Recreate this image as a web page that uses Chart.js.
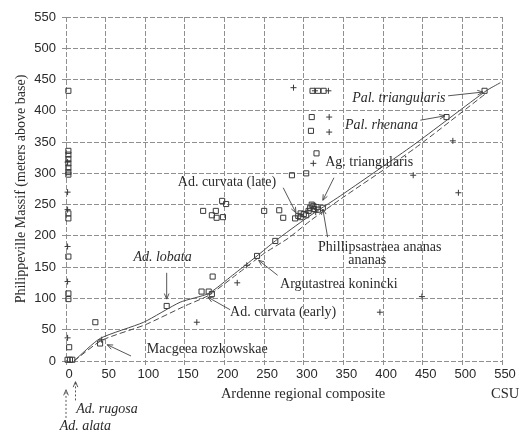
<!DOCTYPE html>
<html>
<head>
<meta charset="utf-8">
<script src="https://cdn.jsdelivr.net/npm/chart.js@4.4.0/dist/chart.umd.min.js"></script>
<style>
  html, body { margin: 0; padding: 0; background: #fff; }
  #wrap { width: 523px; height: 436px; }
</style>
</head>
<body>
<div id="wrap"><canvas id="chart" width="523" height="436"></canvas></div>
<script>
// same 0..550 ticks on both axes
const tickValues = [0, 50, 100, 150, 200, 250, 300, 350, 400, 450, 500, 550];

// open squares (Ardenne CSU, Philippeville m)
const squareX = [3, 3, 3, 3, 3, 3, 3, 3, 3, 3, 3, 3, 3, 4, 2, 5, 8,
  37, 43, 127, 171, 180, 184, 185, 173, 189, 184, 190, 198, 197, 202,
  250, 269, 274, 241, 264, 285, 303, 316,
  289, 293, 296, 300, 303, 306, 308, 310, 312, 313, 316, 318, 324, 296,
  311, 318, 325, 310, 309, 480, 528];
const squareY = [432, 336, 330, 323, 316, 309, 302, 298, 236, 228, 167, 108, 99, 22, 2, 2, 2,
  62, 28, 88, 111, 111, 107, 135, 240, 240, 233, 229, 230, 256, 251,
  240, 241, 229, 168, 192, 297, 300, 332,
  228, 232, 230, 235, 233, 240, 245, 250, 248, 243, 246, 242, 245, 236,
  432, 432, 432, 390, 368, 390, 432];

// plus markers
const plusX = [2, 2, 2, 2, 2, 2, 45, 165, 216, 228, 305, 315, 312, 332, 332, 287, 314, 331, 438, 495, 396, 449, 488];
const plusY = [318, 270, 242, 183, 127, 37, 34, 62, 125, 153, 240, 238, 316, 390, 366, 437, 432, 432, 297, 269, 78, 103, 352];

// solid line of correlation
const lineX = [10, 43, 98, 144, 180, 210, 241, 264, 304, 346, 438, 530, 548];
const lineY = [0, 36, 62, 94, 108, 137, 168, 192, 229, 264, 345, 432, 445];

// dashed line of correlation
const dashX = [10, 45, 100, 150, 180, 215, 250, 280, 310, 350, 440, 530];
const dashY = [0, 33, 58, 88, 105, 138, 172, 196, 226, 262, 340, 428];

// taxon labels: text, italic, anchor (data units), arrow from -> to (data units)
const notes = [
  { text: 'Pal. triangularis', italic: true, x: 361, y: 420, from: [482, 424], to: [526, 430] },
  { text: 'Pal. rhenana', italic: true, x: 352, y: 377, from: [447, 385], to: [478, 392] },
  { text: 'Ag. triangularis', italic: false, x: 327, y: 317, from: [338, 293], to: [324, 257] },
  { text: 'Ad. curvata (late)', italic: false, x: 141, y: 285, from: [274, 277], to: [290, 237] },
  { text: 'Phillipsastraea ananas', italic: false, x: 318, y: 182, from: [330, 198], to: [324, 243] },
  { text: 'ananas', italic: false, x: 356, y: 161 },
  { text: 'Argutastrea konincki', italic: false, x: 270, y: 122, from: [267, 137], to: [243, 161] },
  { text: 'Ad. lobata', italic: true, x: 85, y: 166, from: [127, 141], to: [127, 99] },
  { text: 'Ad. curvata (early)', italic: false, x: 207, y: 78, from: [207, 82], to: [179, 102] },
  { text: 'Macgeea rozkowskae', italic: false, x: 102, y: 18, from: [82, 8], to: [52, 26] },
  { text: 'Ad. rugosa', italic: true, x: 13, y: -78, from: [12, -63], to: [12, -33], dotted: true },
  { text: 'Ad. alata', italic: true, x: -8, y: -105, from: [0, -91], to: [0, -46], dotted: true }
];

const ink = '#2a2a2a';
const gridColor = '#8f8f8f';
const serif = '"Liberation Serif", "DejaVu Serif", serif';
const narrow = '"Liberation Sans Narrow", "Liberation Sans", sans-serif';

function toPoints(xs, ys) {
  return xs.map((x, i) => ({ x: x, y: ys[i] }));
}

function arrow(ctx, x1, y1, x2, y2, dotted) {
  ctx.save();
  ctx.strokeStyle = '#444';
  ctx.lineWidth = 0.9;
  ctx.setLineDash(dotted ? [2, 2] : []);
  ctx.beginPath();
  ctx.moveTo(x1, y1);
  ctx.lineTo(x2, y2);
  ctx.stroke();
  // open arrow head
  ctx.setLineDash([]);
  const a = Math.atan2(y2 - y1, x2 - x1);
  const len = 6;
  ctx.beginPath();
  ctx.moveTo(x2 - len * Math.cos(a - 0.4), y2 - len * Math.sin(a - 0.4));
  ctx.lineTo(x2, y2);
  ctx.lineTo(x2 - len * Math.cos(a + 0.4), y2 - len * Math.sin(a + 0.4));
  ctx.stroke();
  ctx.restore();
}

// draws the taxon names, arrows and the x axis captions
const notesPlugin = {
  id: 'notes',
  afterDraw(chart) {
    const { ctx, scales: { x, y } } = chart;
    ctx.save();
    ctx.fillStyle = ink;
    ctx.textBaseline = 'middle';
    notes.forEach(n => {
      ctx.font = (n.italic ? 'italic ' : '') + '14px ' + serif;
      ctx.textAlign = 'left';
      ctx.fillText(n.text, x.getPixelForValue(n.x), y.getPixelForValue(n.y));
      if (n.from) {
        arrow(ctx, x.getPixelForValue(n.from[0]), y.getPixelForValue(n.from[1]),
          x.getPixelForValue(n.to[0]), y.getPixelForValue(n.to[1]), n.dotted);
      }
    });
    // x axis caption and unit
    ctx.font = '14.5px ' + serif;
    ctx.textAlign = 'center';
    ctx.fillText('Ardenne regional composite', x.getPixelForValue(299), y.getPixelForValue(-53));
    ctx.fillText('CSU', x.getPixelForValue(554), y.getPixelForValue(-53));
    ctx.restore();
  }
};

const axisCommon = {
  min: 0,
  max: 550,
  afterBuildTicks: scale => { scale.ticks = tickValues.map(v => ({ value: v })); },
  grid: { color: gridColor, lineWidth: 1, tickLength: 4, tickColor: gridColor },
  border: { display: false, dash: [5, 2] }
};

new Chart(document.getElementById('chart'), {
  type: 'scatter',
  data: {
    datasets: [
      {
        label: 'line',
        data: toPoints(lineX, lineY),
        showLine: true,
        borderColor: '#4a4a4a',
        borderWidth: 1,
        pointRadius: 0,
        tension: 0.2
      },
      {
        label: 'dashed',
        data: toPoints(dashX, dashY),
        showLine: true,
        borderColor: '#4a4a4a',
        borderWidth: 1,
        borderDash: [6, 3],
        pointRadius: 0,
        tension: 0.2
      },
      {
        label: 'squares',
        data: toPoints(squareX, squareY),
        pointStyle: 'rect',
        pointRadius: 3.6,
        borderColor: '#3a3a3a',
        borderWidth: 1,
        backgroundColor: 'rgba(0,0,0,0)',
        clip: false
      },
      {
        label: 'plus',
        data: toPoints(plusX, plusY),
        pointStyle: 'cross',
        pointRadius: 3,
        borderColor: '#3a3a3a',
        borderWidth: 1,
        clip: false
      }
    ]
  },
  options: {
    responsive: false,
    animation: false,
    layout: { padding: { top: 17, right: 21, left: 0, bottom: 0 } },
    plugins: {
      legend: { display: false },
      tooltip: { enabled: false }
    },
    scales: {
      x: {
        ...axisCommon,
        ticks: { color: ink, font: { family: narrow, size: 13 }, padding: 2, labelOffset: 3, maxRotation: 0, autoSkip: false },
        afterFit: s => { s.height = 75; }
      },
      y: {
        ...axisCommon,
        ticks: { color: ink, font: { family: narrow, size: 13 }, padding: 6 },
        title: {
          display: true,
          text: 'Philippeville Massif (meters above base)',
          color: ink,
          font: { family: serif, size: 14 },
          padding: { top: 13, bottom: 0 }
        },
        afterFit: s => { s.width = 66; }
      }
    }
  },
  plugins: [notesPlugin]
});
</script>
</body>
</html>
